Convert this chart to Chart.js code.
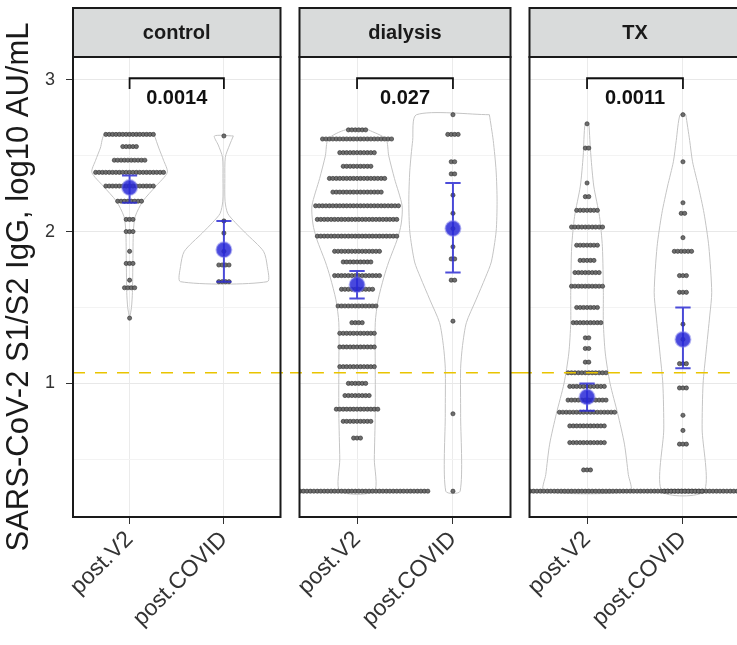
<!DOCTYPE html>
<html lang="en">
<head>
<meta charset="UTF-8">
<title>SARS-CoV-2 S1/S2 IgG by cohort</title>
<style>
  body { margin: 0; background: #fff; }
  #wrap { position: relative; width: 737px; height: 645px; overflow: hidden; background: #fff; }
  #wrap canvas { position: absolute; top: 0; }
</style>
</head>
<body>
<div id="wrap">
  <canvas id="panel0" width="290" height="645" style="left:0px"></canvas>
  <canvas id="panel1" width="230" height="645" style="left:290px"></canvas>
  <canvas id="panel2" width="230" height="645" style="left:520px"></canvas>
</div>
<script src="https://cdn.jsdelivr.net/npm/chart.js"></script>
<script>
Chart.defaults.font.family = 'Arial, "Liberation Sans", sans-serif';
Chart.defaults.color = '#333';

const panelNames = ['control', 'dialysis', 'TX'];
const groupLabels = ['post.V2', 'post.COVID'];
const pValues = ['0.0014', '0.027', '0.0011'];
const cutoffValue = 1.07;
const yTickValues = [0.5, 1, 1.5, 2, 2.5, 3];

// dot rows: log10 value of the row and how many samples sit in it
const controlV2Y = [2.64, 2.56, 2.47, 2.39, 2.30, 2.20, 2.08, 2.00, 1.87, 1.79, 1.68, 1.63, 1.43];
const controlV2N = [15, 5, 10, 21, 15, 8, 3, 3, 1, 3, 1, 4, 1];
const controlCovidY = [2.63, 2.07, 1.99, 1.87, 1.78, 1.67];
const controlCovidN = [1, 1, 1, 1, 4, 4];
const dialysisV2Y = [2.67, 2.61, 2.52, 2.43, 2.35, 2.26, 2.17, 2.08, 1.97, 1.87, 1.80, 1.71, 1.62, 1.51, 1.40, 1.33, 1.24, 1.11, 1.00, 0.92, 0.83, 0.75, 0.64, 0.29];
const dialysisV2N = [6, 21, 11, 9, 17, 15, 25, 24, 24, 14, 9, 14, 10, 12, 4, 11, 11, 11, 6, 8, 13, 9, 3, 42];
const dialysisCovidY = [2.77, 2.64, 2.46, 2.38, 2.24, 2.12, 2.02, 1.90, 1.82, 1.68, 1.41, 0.80, 0.29];
const dialysisCovidN = [1, 4, 2, 2, 1, 1, 1, 1, 2, 2, 1, 1, 1];
const txV2Y = [2.71, 2.55, 2.32, 2.23, 2.14, 2.03, 1.91, 1.81, 1.73, 1.64, 1.50, 1.40, 1.30, 1.23, 1.14, 1.07, 0.98, 0.89, 0.81, 0.72, 0.61, 0.43, 0.29];
const txV2N = [1, 2, 1, 2, 7, 10, 7, 5, 8, 10, 7, 9, 2, 2, 2, 12, 11, 12, 17, 11, 11, 3, 88];
const txCovidY = [2.77, 2.46, 2.19, 2.12, 1.96, 1.87, 1.71, 1.60, 1.39, 1.29, 1.13, 0.97, 0.79, 0.69, 0.60, 0.29];
const txCovidN = [1, 1, 1, 2, 1, 6, 3, 3, 1, 1, 3, 3, 1, 1, 3, 12];

// violin outlines: level and half width (in category units)
const controlV2ViolinY = [2.64, 2.55, 2.47, 2.39, 2.30, 2.20, 2.10, 2.00, 1.80, 1.60, 1.50, 1.43];
const controlV2ViolinW = [0.26, 0.31, 0.36, 0.40, 0.28, 0.14, 0.06, 0.04, 0.035, 0.03, 0.02, 0.0];
const controlCovidViolinY = [2.63, 2.57, 2.49, 2.35, 2.20, 2.12, 2.06, 1.99, 1.87, 1.77, 1.67];
const controlCovidViolinW = [0.10, 0.06, 0.015, 0.01, 0.012, 0.04, 0.12, 0.23, 0.42, 0.46, 0.46];
const dialysisV2ViolinY = [2.67, 2.61, 2.50, 2.35, 2.17, 2.05, 1.95, 1.80, 1.70, 1.55, 1.40, 1.10, 0.80, 0.50, 0.29];
const dialysisV2ViolinW = [0.12, 0.30, 0.33, 0.39, 0.47, 0.46, 0.42, 0.33, 0.28, 0.22, 0.19, 0.19, 0.19, 0.18, 0.18];
const dialysisCovidViolinY = [2.77, 2.60, 2.40, 2.20, 2.00, 1.80, 1.70, 1.55, 1.40, 1.25, 1.10, 0.80, 0.29];
const dialysisCovidViolinW = [0.38, 0.42, 0.45, 0.46, 0.45, 0.40, 0.34, 0.24, 0.14, 0.10, 0.08, 0.08, 0.075];
const txV2ViolinY = [2.71, 2.50, 2.30, 2.10, 1.90, 1.60, 1.40, 1.20, 1.00, 0.80, 0.60, 0.40, 0.29];
const txV2ViolinW = [0.02, 0.04, 0.07, 0.13, 0.16, 0.17, 0.17, 0.19, 0.24, 0.32, 0.39, 0.43, 0.45];
const txCovidViolinY = [2.77, 2.60, 2.46, 2.30, 2.12, 1.90, 1.60, 1.45, 1.20, 1.00, 0.70, 0.29];
const txCovidViolinW = [0.03, 0.07, 0.10, 0.16, 0.22, 0.27, 0.30, 0.28, 0.24, 0.21, 0.20, 0.22];

// mean with 95% CI per panel
const meanV2 = [2.29, 1.65, 0.91];
const lowV2 = [2.19, 1.56, 0.82];
const highV2 = [2.37, 1.74, 1.00];
const meanCovid = [1.88, 2.02, 1.29];
const lowCovid = [1.67, 1.73, 1.10];
const highCovid = [2.07, 2.32, 1.50];

const panelRows = [
    [[controlV2Y, controlV2N], [controlCovidY, controlCovidN]],
    [[dialysisV2Y, dialysisV2N], [dialysisCovidY, dialysisCovidN]],
    [[txV2Y, txV2N], [txCovidY, txCovidN]]
];
const panelViolins = [
    [[controlV2ViolinY, controlV2ViolinW], [controlCovidViolinY, controlCovidViolinW]],
    [[dialysisV2ViolinY, dialysisV2ViolinW], [dialysisCovidViolinY, dialysisCovidViolinW]],
    [[txV2ViolinY, txV2ViolinW], [txCovidViolinY, txCovidViolinW]]
];

const DOT_STEP = 0.036;
const CAP = 0.08;

function dotPoints(c, ys, ns) {
    const pts = [];
    ys.forEach((y, i) => {
        const n = ns[i];
        for (let k = 0; k < n; k++) pts.push({ x: c + (k - (n - 1) / 2) * DOT_STEP, y: y });
    });
    return pts;
}

function violinPoints(c, ys, ws) {
    const pts = ys.map((y, i) => ({ x: c + ws[i], y: y }));
    for (let i = ys.length - 1; i >= 0; i--) pts.push({ x: c - ws[i], y: ys[i] });
    pts.push(pts[0]);
    return pts;
}

function errorBarPoints(c, lo, hi) {
    return [
        { x: c, y: lo }, { x: c, y: hi }, { x: c, y: null },
        { x: c - CAP, y: hi }, { x: c + CAP, y: hi }, { x: c, y: null },
        { x: c - CAP, y: lo }, { x: c + CAP, y: lo }, { x: c, y: null }
    ];
}

const facetPlugin = {
    id: 'facet',
    afterDatasetsDraw(chart, args, opts) {
        const { ctx, chartArea: a, scales } = chart;
        ctx.save();
        // p value under the bracket
        ctx.font = 'bold 20px Arial, "Liberation Sans", sans-serif';
        ctx.fillStyle = '#111';
        ctx.textAlign = 'center';
        ctx.textBaseline = 'middle';
        ctx.fillText(opts.p, scales.x.getPixelForValue(1.5), scales.y.getPixelForValue(2.875));
        // panel border
        ctx.strokeStyle = '#1a1a1a';
        ctx.lineWidth = 2;
        ctx.strokeRect(a.left, a.top, a.right - a.left, a.bottom - a.top);
        // facet strip
        ctx.fillStyle = '#d9dbdb';
        ctx.fillRect(a.left, 8, a.right - a.left, a.top - 8);
        ctx.strokeRect(a.left, 8, a.right - a.left, a.top - 8);
        ctx.fillStyle = '#1a1a1a';
        ctx.fillText(opts.title, (a.left + a.right) / 2, (8 + a.top) / 2 + 1);
        ctx.restore();
    }
};

function makePanel(idx) {
    const first = idx === 0;
    const datasets = [];

    datasets.push({
        data: [{ x: 1, y: meanV2[idx] }, { x: 2, y: meanCovid[idx] }],
        pointRadius: 7.5, pointBackgroundColor: 'rgba(40,40,215,0.85)',
        pointBorderColor: 'rgba(110,110,230,0.45)', pointBorderWidth: 2,
        order: 0
    });
    datasets.push({
        data: errorBarPoints(1, lowV2[idx], highV2[idx]).concat(errorBarPoints(2, lowCovid[idx], highCovid[idx])),
        showLine: true, spanGaps: false, borderColor: 'rgba(45,45,210,0.85)', borderWidth: 2, pointRadius: 0,
        order: 1
    });
    datasets.push({
        data: [{ x: 1, y: 2.94 }, { x: 1, y: 3.01 }, { x: 2, y: 3.01 }, { x: 2, y: 2.94 }],
        showLine: true, borderColor: '#111', borderWidth: 1.8, pointRadius: 0,
        order: 2
    });
    datasets.push({
        data: [{ x: first ? 0.4 : 0.3, y: cutoffValue }, { x: 2.77, y: cutoffValue }],
        showLine: true, borderColor: '#e9c400', borderWidth: 1.6, borderDash: [12, 10], pointRadius: 0,
        clip: false, order: 3
    });
    datasets.push({
        data: dotPoints(1, panelRows[idx][0][0], panelRows[idx][0][1]).concat(
              dotPoints(2, panelRows[idx][1][0], panelRows[idx][1][1])),
        pointRadius: 2.1, pointBackgroundColor: '#6e6e6e', pointBorderColor: '#2e2e2e', pointBorderWidth: 0.6,
        order: 4
    });
    [0, 1].forEach(g => {
        datasets.push({
            data: violinPoints(g + 1, panelViolins[idx][g][0], panelViolins[idx][g][1]),
            showLine: true, borderColor: '#c4c4c4', borderWidth: 1, pointRadius: 0, tension: 0.25,
            order: 5
        });
    });

    new Chart(document.getElementById('panel' + idx), {
        type: 'scatter',
        data: { datasets: datasets },
        options: {
            responsive: false,
            animation: false,
            events: [],
            layout: { padding: { top: 57, bottom: 0, left: first ? 0 : 9, right: first ? 5 : 8 } },
            plugins: {
                legend: { display: false },
                tooltip: { enabled: false },
                facet: { title: panelNames[idx], p: pValues[idx] }
            },
            scales: {
                x: {
                    type: 'linear', min: 0.4, max: 2.6,
                    border: { display: false },
                    grid: { color: '#ebebeb', tickColor: '#333', tickLength: 7 },
                    afterBuildTicks: s => { s.ticks = [{ value: 1 }, { value: 2 }]; },
                    afterFit: s => { s.height = 128; },
                    ticks: {
                        autoSkip: false, minRotation: 45, maxRotation: 45, padding: 2,
                        font: { size: 23 }, color: '#333',
                        callback: v => groupLabels[v - 1]
                    }
                },
                y: {
                    type: 'linear', min: 0.12, max: 3.15,
                    border: { display: false },
                    afterBuildTicks: s => { s.ticks = yTickValues.map(v => ({ value: v })); },
                    afterFit: s => { s.width = first ? 73 : 0; },
                    grid: {
                        color: c => (c.tick && Number.isInteger(c.tick.value)) ? '#e8e8e8' : '#f3f3f3',
                        tickColor: c => (c.tick && Number.isInteger(c.tick.value)) ? '#333' : 'rgba(0,0,0,0)',
                        tickLength: 7,
                        drawTicks: first
                    },
                    ticks: {
                        display: first, padding: 11, font: { size: 18 }, color: '#333',
                        callback: v => Number.isInteger(v) ? String(v) : ''
                    },
                    title: {
                        display: first, text: 'SARS-CoV-2 S1/S2 IgG, log10 AU/mL',
                        font: { size: 31 }, color: '#1a1a1a', padding: { top: 1, bottom: 0 }
                    }
                }
            }
        },
        plugins: [facetPlugin]
    });
}

[0, 1, 2].forEach(makePanel);
</script>
</body>
</html>
